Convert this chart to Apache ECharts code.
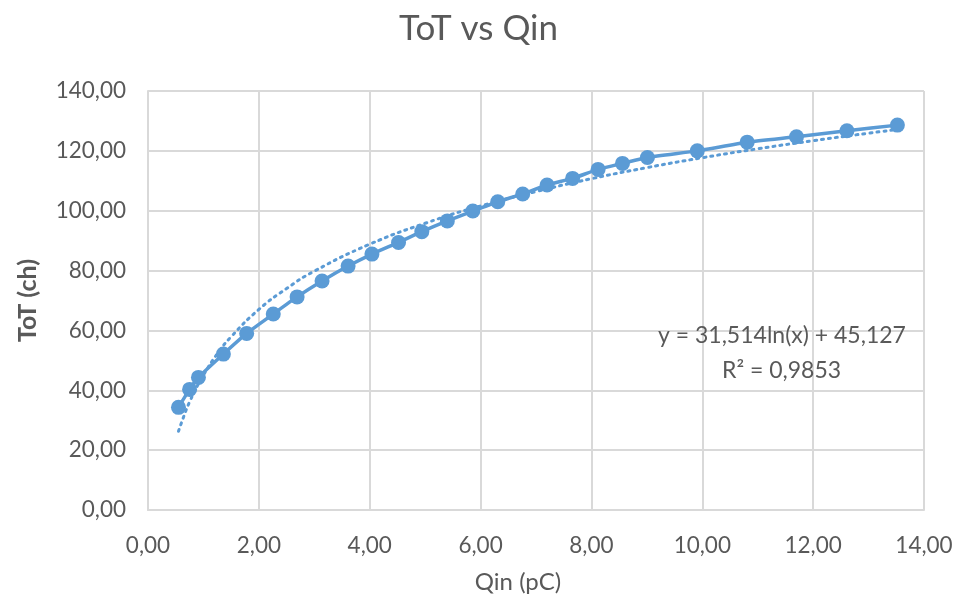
<!DOCTYPE html>
<html>
<head>
<meta charset="utf-8">
<script src="https://cdn.jsdelivr.net/npm/echarts@6/dist/echarts.min.js"></script>
<style>html,body{margin:0;padding:0;background:#fff}#c{width:957px;height:606px}</style>
</head>
<body>
<div id="c"></div>
<script>
// Data
const qin = [0.55, 0.75, 0.91, 1.36, 1.78, 2.26, 2.69, 3.14, 3.61, 4.04, 4.52, 4.94, 5.40, 5.86, 6.31, 6.76, 7.20, 7.66, 8.12, 8.56, 9.01, 9.91, 10.81, 11.70, 12.61, 13.52];
const tot = [34.3, 40.3, 44.3, 52.1, 59.0, 65.5, 71.2, 76.5, 81.5, 85.5, 89.4, 93.0, 96.6, 99.9, 103.0, 105.6, 108.6, 110.8, 113.8, 115.8, 117.8, 120.0, 122.9, 124.7, 126.7, 128.6];
// Dotted trend line, read at points along its curve
const trendX = [0.55, 0.65, 0.75, 0.9, 1.0, 1.25, 1.5, 2.0, 2.5, 3.0, 4.0, 5.0, 6.0, 7.0, 8.0, 9.0, 10.0, 11.0, 12.0, 13.0, 13.5];
const trendY = [26.3, 31.5, 36.1, 41.8, 45.1, 52.2, 57.9, 67.0, 74.0, 79.8, 88.8, 95.8, 101.6, 106.4, 110.7, 114.4, 117.7, 120.7, 123.4, 125.9, 127.1];
const xTicks = {min: 0, max: 14, interval: 2};
const yTicks = {min: 0, max: 140, interval: 20};
const titleText = 'ToT vs Qin';
const xName = 'Qin (pC)';
const yName = 'ToT (ch)';
const eqLine1 = 'y = 31,514ln(x) + 45,127';
const eqLine2 = 'R² = 0,9853';

const fmt = v => v.toFixed(2).replace('.', ',');
const font = 'Lato, "Open Sans", sans-serif';
const grey = '#595959';
const gridC = '#d9d9d9';
const blue = '#5b9bd5';

const chart = echarts.init(document.getElementById('c'));
chart.setOption({
  animation: false,
  backgroundColor: '#fff',
  textStyle: {fontFamily: font},
  title: {
    text: titleText, left: 'center', top: 6,
    textStyle: {fontFamily: font, fontSize: 35, fontWeight: 'normal', color: grey}
  },
  grid: {left: 148, right: 33, top: 91, bottom: 96},
  xAxis: {
    type: 'value', min: xTicks.min, max: xTicks.max, interval: xTicks.interval,
    name: xName, nameLocation: 'middle', nameGap: 60,
    nameTextStyle: {fontFamily: font, fontSize: 24, color: grey, padding: [0, 36, 0, 0]},
    axisLine: {show: true, lineStyle: {color: gridC, width: 2}},
    axisTick: {show: false},
    axisLabel: {formatter: fmt, fontFamily: font, fontSize: 22.5, color: grey, margin: 24},
    splitLine: {show: true, lineStyle: {color: gridC, width: 2}}
  },
  yAxis: {
    type: 'value', min: yTicks.min, max: yTicks.max, interval: yTicks.interval,
    name: yName, nameLocation: 'middle', nameGap: 108, nameRotate: 90,
    nameTextStyle: {fontFamily: font, fontSize: 25, fontWeight: 'bold', color: grey},
    axisLine: {show: true, lineStyle: {color: gridC, width: 2}},
    axisTick: {show: false},
    axisLabel: {formatter: fmt, fontFamily: font, fontSize: 22.5, color: grey, margin: 22},
    splitLine: {show: true, lineStyle: {color: gridC, width: 2}}
  },
  graphic: [
    {type: 'text', left: 658, top: 324, z: 10, style: {text: eqLine1, font: '23px ' + font, fill: grey}},
    {type: 'text', left: 722, top: 359, z: 10, style: {text: eqLine2, font: '23px ' + font, fill: grey}}
  ],
  series: [
    {
      type: 'line', data: qin.map((x, i) => [x, tot[i]]),
      symbol: 'circle', symbolSize: 15, smooth: 0.2,
      lineStyle: {color: blue, width: 3.5},
      itemStyle: {color: blue}
    },
    {
      type: 'line', data: trendX.map((x, i) => [x, trendY[i]]),
      symbol: 'none', smooth: true,
      lineStyle: {color: blue, width: 3, type: [2, 5], cap: 'round'}
    }
  ]
});
</script>
</body>
</html>
